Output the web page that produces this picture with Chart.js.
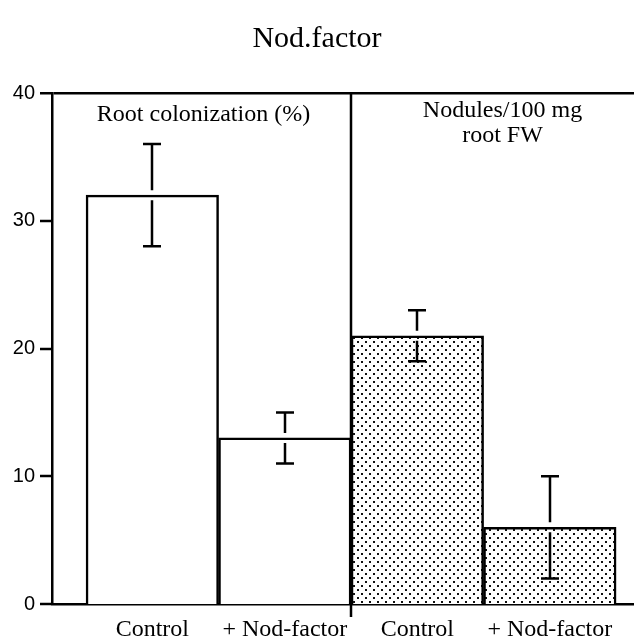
<!DOCTYPE html>
<html>
<head>
<meta charset="utf-8">
<script src="https://cdn.jsdelivr.net/npm/chart.js@4"></script>
<style>
  html, body { margin: 0; padding: 0; background: #fff; }
  canvas { display: block; }
</style>
</head>
<body>
<canvas id="nodChart" width="634" height="637"></canvas>
<script>
// data
const categories = ['Control', '+ Nod-factor', 'Control', '+ Nod-factor'];
const values  = [32, 13, 21, 6];
const errHigh = [36, 15, 23, 10];
const errLow  = [28, 11, 19, 2];
const yTicks  = [0, 10, 20, 30, 40];
const panelLeft  = ['Root colonization (%)'];
const panelRight = ['Nodules/100 mg', 'root FW'];

const serif = '"Liberation Serif", "Times New Roman", serif';
const sans  = '"Liberation Sans", Arial, sans-serif';
const LW = 2.5;

// stippled fill for the nodule bars
function dotPattern() {
    const c = document.createElement('canvas');
    c.width = 8; c.height = 8;
    const g = c.getContext('2d');
    g.fillStyle = '#fff';
    g.fillRect(0, 0, 8, 8);
    g.fillStyle = '#111';
    g.fillRect(1, 1, 2, 2);
    g.fillRect(5, 5, 2, 2);
    return g.createPattern(c, 'repeat');
}
const dots = dotPattern();

const extras = {
    id: 'extras',
    afterDatasetsDraw(chart) {
        const ctx = chart.ctx;
        const x = chart.scales.x, y = chart.scales.y;
        const area = chart.chartArea;
        ctx.save();
        ctx.strokeStyle = '#000';
        ctx.lineWidth = LW;

        // error bars, split around the bar top
        const meta = chart.getDatasetMeta(0);
        meta.data.forEach((bar, i) => {
            const cx = Math.round(bar.x);
            const top = y.getPixelForValue(values[i]);
            const hi = y.getPixelForValue(errHigh[i]);
            const lo = y.getPixelForValue(errLow[i]);
            const gap = 5, cap = 9;
            ctx.beginPath();
            ctx.moveTo(cx, hi); ctx.lineTo(cx, top - gap);
            ctx.moveTo(cx, top + gap); ctx.lineTo(cx, lo);
            ctx.moveTo(cx - cap, hi); ctx.lineTo(cx + cap, hi);
            ctx.moveTo(cx - cap, lo); ctx.lineTo(cx + cap, lo);
            ctx.stroke();
        });

        // divider between the two panels
        const dx = Math.round(x.getPixelForValue(1.5));
        ctx.beginPath();
        ctx.moveTo(dx, area.top);
        ctx.lineTo(dx, area.bottom + 13);
        ctx.stroke();

        // panel headings
        ctx.fillStyle = '#000';
        ctx.font = '24px ' + serif;
        ctx.textAlign = 'center';
        ctx.textBaseline = 'alphabetic';
        ctx.fillText(panelLeft[0], (area.left + dx) / 2 + 2, 121);
        panelRight.forEach((t, k) => {
            ctx.fillText(t, (dx + area.right) / 2 + 10, 117 + k * 25);
        });
        ctx.restore();
    }
};

new Chart(document.getElementById('nodChart'), {
    type: 'bar',
    data: {
        datasets: [{
            data: values.map((v, i) => ({ x: i, y: v })),
            backgroundColor: ['#fff', '#fff', dots, dots],
            borderColor: '#000',
            borderWidth: LW,
            barPercentage: 1,
            categoryPercentage: 1
        }]
    },
    options: {
        responsive: false,
        animation: false,
        events: [],
        layout: { padding: 0 },
        plugins: {
            legend: { display: false },
            tooltip: { enabled: false },
            title: {
                display: true,
                text: 'Nod.factor',
                color: '#000',
                font: { family: serif, size: 30, weight: 'normal', lineHeight: 1.2 },
                padding: { top: 21, bottom: 36 }
            }
        },
        scales: {
            x: {
                type: 'linear',
                offset: false,
                bounds: 'data',
                min: -0.757,
                max: 3.635,
                afterDataLimits: s => { s.min = -0.757; s.max = 3.635; },
                afterBuildTicks: s => { s.ticks = categories.map((c, i) => ({ value: i })); },
                afterFit: s => { s.height = 33; },
                grid: { display: false, offset: false },
                border: { display: true, color: '#000', width: LW },
                ticks: {
                    color: '#000',
                    autoSkip: false,
                    maxRotation: 0,
                    padding: 3,
                    font: { family: serif, size: 24 },
                    callback: v => categories[v]
                }
            },
            y: {
                min: 0,
                max: 40,
                afterBuildTicks: s => { s.ticks = yTicks.map(v => ({ value: v })); },
                afterFit: s => { s.width = 52; },
                grid: {
                    drawOnChartArea: true,
                    lineWidth: c => (c.tick && c.tick.value === 40 ? LW : 0),
                    color: '#000',
                    tickLength: 12,
                    tickWidth: LW,
                    tickColor: '#000'
                },
                border: { display: true, color: '#000', width: LW },
                ticks: {
                    color: '#000',
                    padding: 5,
                    font: { family: sans, size: 20 }
                }
            }
        }
    },
    plugins: [extras]
});
</script>
</body>
</html>
